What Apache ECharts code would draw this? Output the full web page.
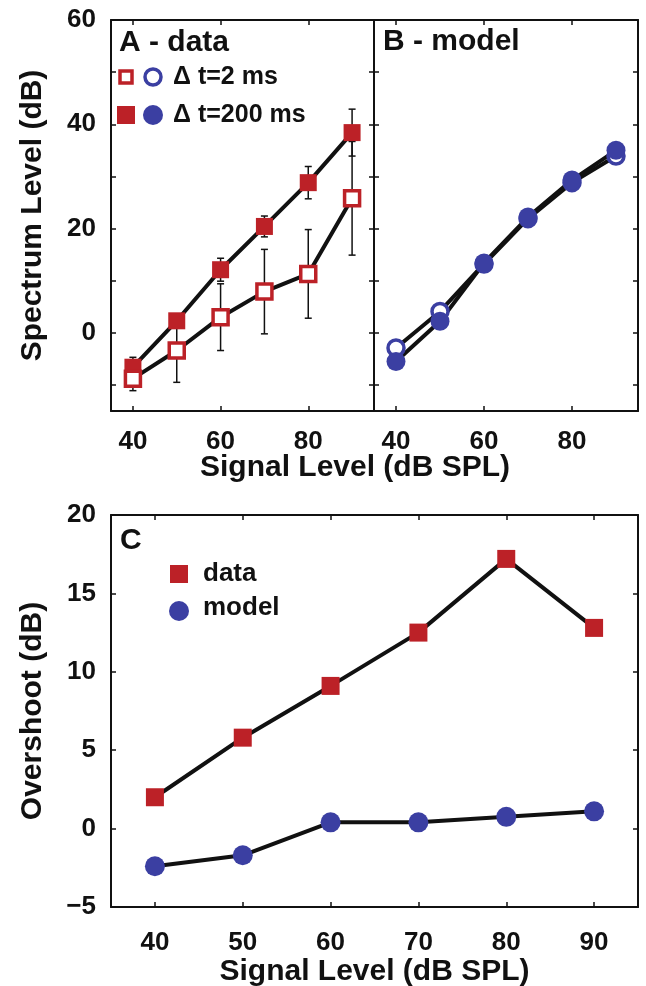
<!DOCTYPE html>
<html>
<head>
<meta charset="utf-8">
<script src="https://cdn.jsdelivr.net/npm/echarts@6/dist/echarts.min.js"></script>
<style>
	html, body { margin: 0; padding: 0; background: #fff; }
	#chart { width: 646px; height: 986px; }
</style>
</head>
<body>
<div id="chart"></div>
<script>
// signal levels (dB SPL)
var levels = [40, 50, 60, 70, 80, 90];

// panel A - measured spectrum level (dB), with error bar half-widths
var dataLong = [-6.6, 2.3, 12.1, 20.4, 28.8, 38.4];   // dt = 200 ms
var errLong = [1.9, 1.2, 2.2, 2.0, 3.1, 4.5];
var dataShort = [-8.8, -3.4, 3.0, 7.9, 11.3, 25.8];   // dt = 2 ms
var errShort = [2.3, 6.1, 6.4, 8.1, 8.5, 10.9];

// panel B - model spectrum level (dB)
var modelLong = [-5.5, 2.2, 13.4, 22.2, 29.3, 35.0];
var modelShort = [-2.9, 4.1, 13.2, 21.9, 28.8, 33.9];

// panel C - overshoot (dB)
var overData = [2.0, 5.8, 9.1, 12.5, 17.2, 12.8];
var overModel = [-2.4, -1.7, 0.4, 0.4, 0.75, 1.1];

// ticks and labels
var xTicksTop = [40, 60, 80];
var yTicksTop = [-10, 0, 10, 20, 30, 40, 50, 60];
var yLabelsTop = [0, 20, 40, 60];
var xTicksC = [40, 50, 60, 70, 80, 90];
var yTicksC = [-5, 0, 5, 10, 15, 20];

var RED = '#BC2127';
var BLUE = '#3B3FA2';
var FONT = 'Liberation Sans';

function pairs(xs, ys) {
	return xs.map(function (x, i) { return [x, ys[i]]; });
}

function errData(xs, ys, es) {
	return xs.map(function (x, i) { return [x, ys[i] - es[i], ys[i] + es[i]]; });
}

function renderErr(params, api) {
	var x = api.value(0);
	var lo = api.coord([x, api.value(1)]);
	var hi = api.coord([x, api.value(2)]);
	var w = 3.5;
	var st = { stroke: '#111', lineWidth: 1.5 };
	return {
		type: 'group',
		children: [
			{ type: 'line', shape: { x1: lo[0], y1: lo[1], x2: hi[0], y2: hi[1] }, style: st },
			{ type: 'line', shape: { x1: lo[0] - w, y1: lo[1], x2: lo[0] + w, y2: lo[1] }, style: st },
			{ type: 'line', shape: { x1: hi[0] - w, y1: hi[1], x2: hi[0] + w, y2: hi[1] }, style: st }
		]
	};
}

var axisLine = { onZero: false, lineStyle: { color: '#111', width: 2 } };
var tickStyle = { color: '#111', width: 1.5 };
var labelStyle = {
	color: '#111', fontFamily: FONT, fontWeight: 'bold', fontSize: 26,
	formatter: function (v) { return String(v).replace('-', '\u2212'); }
};
var nameStyle = { color: '#111', fontFamily: FONT, fontWeight: 'bold', fontSize: 30 };

function xAxisOf(grid, pos, ticks, labels, name, margin) {
	return {
		type: 'value', gridIndex: grid, position: pos, min: 35, max: 95,
		axisLine: axisLine,
		axisTick: { show: true, inside: true, length: 5, lineStyle: tickStyle, customValues: ticks },
		axisLabel: labels ? Object.assign({ margin: margin || 18, customValues: labels }, labelStyle) : { show: false },
		splitLine: { show: false },
		name: name || '',
		nameLocation: 'middle',
		nameGap: 45,
		nameTextStyle: nameStyle
	};
}

function yAxisOf(grid, pos, min, max, ticks, labels, name) {
	return {
		type: 'value', gridIndex: grid, position: pos, min: min, max: max,
		axisLine: axisLine,
		axisTick: { show: true, inside: true, length: 5, lineStyle: tickStyle, customValues: ticks },
		axisLabel: labels ? Object.assign({ margin: 15, customValues: labels }, labelStyle) : { show: false },
		splitLine: { show: false },
		name: name || '',
		nameLocation: 'middle',
		nameGap: 63,
		nameTextStyle: nameStyle
	};
}

function lineSeries(xi, yi, ys) {
	return {
		type: 'line', xAxisIndex: xi, yAxisIndex: yi, data: pairs(levels, ys),
		symbol: 'none', lineStyle: { color: '#111', width: 4 }, z: 3, silent: true
	};
}

function markSeries(xi, yi, ys, symbol, size, filled, color) {
	return {
		type: 'scatter', xAxisIndex: xi, yAxisIndex: yi, data: pairs(levels, ys),
		symbol: symbol, symbolSize: size, z: 4,
		itemStyle: filled ? { color: color, opacity: 1 } :
			{ color: '#fff', borderColor: color, borderWidth: 3.5, opacity: 1 }
	};
}

function errSeries(xi, yi, ys, es) {
	return {
		type: 'custom', xAxisIndex: xi, yAxisIndex: yi, coordinateSystem: 'cartesian2d',
		data: errData(levels, ys, es), renderItem: renderErr, encode: { x: 0, y: [1, 2] }, z: 2
	};
}

function txt(x, y, s, size, align) {
	return {
		type: 'text', x: x, y: y, z: 10,
		style: { text: s, fill: '#111', font: 'bold ' + size + 'px "' + FONT + '"', align: align || 'left', verticalAlign: 'middle' }
	};
}

var chart = echarts.init(document.getElementById('chart'));

var option = {
	backgroundColor: '#fff',
	animation: false,
	grid: [
		{ left: 111, top: 20, width: 263, height: 391, outerBoundsMode: 'none' },
		{ left: 374, top: 20, width: 264, height: 391, outerBoundsMode: 'none' },
		{ left: 111, top: 515, width: 527, height: 392, outerBoundsMode: 'none' }
	],
	xAxis: [
		xAxisOf(0, 'bottom', xTicksTop, xTicksTop),
		xAxisOf(0, 'top', xTicksTop, null),
		xAxisOf(1, 'bottom', xTicksTop, xTicksTop),
		xAxisOf(1, 'top', xTicksTop, null),
		xAxisOf(2, 'bottom', xTicksC, xTicksC, 'Signal Level (dB SPL)', 23),
		xAxisOf(2, 'top', xTicksC, null)
	],
	yAxis: [
		yAxisOf(0, 'left', -15, 60, yTicksTop, yLabelsTop, 'Spectrum Level (dB)'),
		yAxisOf(0, 'right', -15, 60, yTicksTop, null),
		yAxisOf(1, 'left', -15, 60, yTicksTop, null),
		yAxisOf(1, 'right', -15, 60, yTicksTop, null),
		yAxisOf(2, 'left', -5, 20, yTicksC, yTicksC, 'Overshoot (dB)'),
		yAxisOf(2, 'right', -5, 20, yTicksC, null)
	],
	series: [
		// panel A
		errSeries(0, 0, dataShort, errShort),
		errSeries(0, 0, dataLong, errLong),
		lineSeries(0, 0, dataLong),
		lineSeries(0, 0, dataShort),
		markSeries(0, 0, dataLong, 'rect', 17, true, RED),
		markSeries(0, 0, dataShort, 'rect', 15, false, RED),
		// panel B
		lineSeries(2, 2, modelShort),
		lineSeries(2, 2, modelLong),
		markSeries(2, 2, modelShort, 'circle', 16, false, BLUE),
		markSeries(2, 2, modelLong, 'circle', 19, true, BLUE),
		// panel C
		lineSeries(4, 4, overData),
		lineSeries(4, 4, overModel),
		markSeries(4, 4, overData, 'rect', 18, true, RED),
		markSeries(4, 4, overModel, 'circle', 20, true, BLUE)
	],
	graphic: [
		txt(119, 43, 'A - data', 30),
		txt(383, 42, 'B - model', 30),
		txt(120, 541, 'C', 30),
		// panel A legend
		{ type: 'rect', shape: { x: 120, y: 71, width: 12, height: 12 }, style: { fill: '#fff', stroke: RED, lineWidth: 3.5 }, z: 10 },
		{ type: 'circle', shape: { cx: 153, cy: 77, r: 8 }, style: { fill: '#fff', stroke: BLUE, lineWidth: 3.5 }, z: 10 },
		txt(173, 77, '\u0394 t=2 ms', 25),
		{ type: 'rect', shape: { x: 117, y: 106, width: 18, height: 18 }, style: { fill: RED }, z: 10 },
		{ type: 'circle', shape: { cx: 153, cy: 115, r: 10 }, style: { fill: BLUE }, z: 10 },
		txt(173, 115, '\u0394 t=200 ms', 25),
		// panel C legend
		{ type: 'rect', shape: { x: 170, y: 565, width: 18, height: 18 }, style: { fill: RED }, z: 10 },
		{ type: 'circle', shape: { cx: 179, cy: 611, r: 10 }, style: { fill: BLUE }, z: 10 },
		txt(203, 574, 'data', 26),
		txt(203, 608, 'model', 26),
		// shared x title for panels A and B
		txt(355, 468, 'Signal Level (dB SPL)', 30, 'center')
	]
};

chart.setOption(option);
</script>
</body>
</html>
